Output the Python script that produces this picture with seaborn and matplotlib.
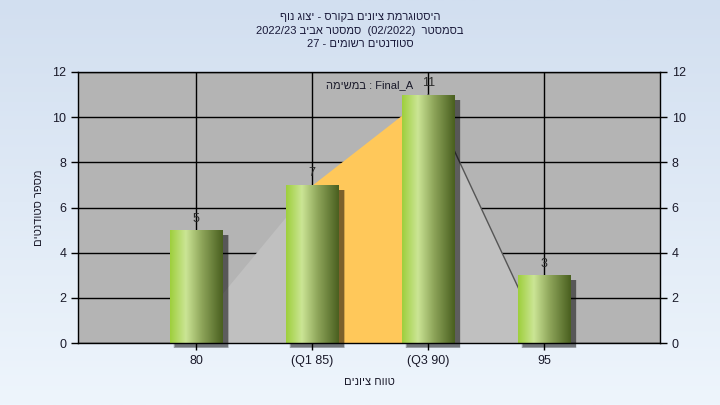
import numpy as np
import pandas as pd
import matplotlib
matplotlib.use("Agg")
import matplotlib.pyplot as plt
import seaborn as sns
from matplotlib.patches import Rectangle
from matplotlib.colors import LinearSegmentedColormap

# ---- data ----
categories = ["80", "(Q1 85)", "(Q3 90)", "95"]
counts = [5, 7, 11, 3]
curve_grades = [79.35, 85, 90, 95]
curve_counts = [0, 7, 11, 0]
y_ticks = [0, 2, 4, 6, 8, 10, 12]


def rtl(s):
    # visual order for right-to-left Hebrew runs
    return s[::-1]


title_lines = [
    rtl("היסטוגרמת ציונים בקורס - יצוג נוף"),
    "2022/23 " + rtl("סמסטר אביב") + "  (02/2022)  " + rtl("בסמסטר"),
    "27 - " + rtl("סטודנטים רשומים"),
]
task_text = rtl("במשימה") + " : Final_A"
x_label = rtl("טווח ציונים")
y_label = rtl("מספר סטודנטים")

sns.set_style("white")
plt.rcParams["font.family"] = ["Liberation Sans", "DejaVu Sans"]

W, H = 720, 405
fig = plt.figure(figsize=(7.2, 4.05), dpi=100)

# background gradient
bg = fig.add_axes([0, 0, 1, 1], zorder=-10)
grad = np.linspace(0, 1, 256).reshape(-1, 1)
bg_cmap = LinearSegmentedColormap.from_list("bg", ["#d2dff0", "#eef5fc"])
bg.imshow(grad, aspect="auto", cmap=bg_cmap, extent=[0, 1, 0, 1], origin="upper")
bg.set_axis_off()

left, right, top, bottom = 78, 660, 72, 343
ax = fig.add_axes([left / W, 1 - bottom / H, (right - left) / W, (bottom - top) / H])
ax.set_facecolor("#b4b4b4")

df = pd.DataFrame({"cat": categories, "count": counts})
sns.barplot(data=df, x="cat", y="count", ax=ax, width=0.45, color="#a0cd3c",
            zorder=5, saturation=1)

ax.set_xlim(-1.02, 4.0)
ax.set_ylim(0, 12)
ax.set_yticks(y_ticks)

# grid
ax.grid(True, color="black", linewidth=1.0, zorder=1)
ax.set_axisbelow(True)

# distribution area
pos = [(g - 80) / 5 for g in curve_grades]
ax.fill_between(pos[0:2], [curve_counts[0], curve_counts[1]], 0, color="#c0c0c0", lw=0, zorder=2)
ax.fill_between(pos[1:3], [curve_counts[1], curve_counts[2]], 0, color="#ffc85a", lw=0, zorder=2)
ax.fill_between(pos[2:4], [curve_counts[2], curve_counts[3]], 0, color="#c0c0c0", lw=0, zorder=2)
ax.plot(pos[2:4], curve_counts[2:4], color="#555555", lw=1.0, zorder=3)

# gradient bars with shadow
bar_cmap = LinearSegmentedColormap.from_list(
    "bar", [(0, "#9ecf3c"), (0.3, "#cbe595"), (0.6, "#8ea55a"), (1.0, "#495f1f")])
hgrad = np.linspace(0, 1, 256).reshape(1, -1)
dx = 5 / 116
dy = 4 * 12 / 271
for p in list(ax.patches):
    x0, y0 = p.get_x(), p.get_y()
    w, h = p.get_width(), p.get_height()
    for k, a in enumerate([0.08, 0.12, 0.18, 0.26]):
        s = (4 - k) * 0.6
        ax.add_patch(Rectangle((x0 + dx - s * 0.006, y0 - dy - s * 0.02),
                               w + s * 0.012, h + s * 0.02 - 0.05,
                               facecolor="black", alpha=a, lw=0, zorder=4, clip_on=False))
    p.set_facecolor("none")
    p.set_edgecolor("none")
    im = ax.imshow(hgrad, aspect="auto", cmap=bar_cmap,
                   extent=[x0, x0 + w, y0, y0 + h], zorder=5)
    im.set_clip_path(p)
    ax.annotate(f"{int(h)}", (x0 + w / 2, h), xytext=(0, 4), textcoords="offset points",
                ha="center", va="bottom", fontsize=9, color="#2a2a2a", zorder=6)

ax.set_xlim(-1.02, 4.0)
ax.set_ylim(0, 12)

ax.text(1.87, 11.4, task_text, ha="right", va="center", fontsize=8, color="#1a1a2a", zorder=6)

for sp in ax.spines.values():
    sp.set_color("black")
    sp.set_linewidth(1.0)
    sp.set_zorder(7)

ax.tick_params(axis="both", which="both", direction="out", length=5, width=1,
               color="black", labelsize=9, labelcolor="#1a1a2a")
ax.tick_params(axis="y", left=True, right=True, labelleft=True, labelright=True)
ax.tick_params(axis="x", bottom=True)
ax.set_xlabel(x_label, fontsize=8, color="#1a1a2a", labelpad=7)
ax.set_ylabel(y_label, fontsize=8, color="#1a1a2a", labelpad=6)

for i, line in enumerate(title_lines):
    fig.text(0.5, 1 - (17 + i * 13.5) / H, line, ha="center", va="center",
             fontsize=8, color="#1a1a3a")

fig.savefig("out.png", dpi=100)
